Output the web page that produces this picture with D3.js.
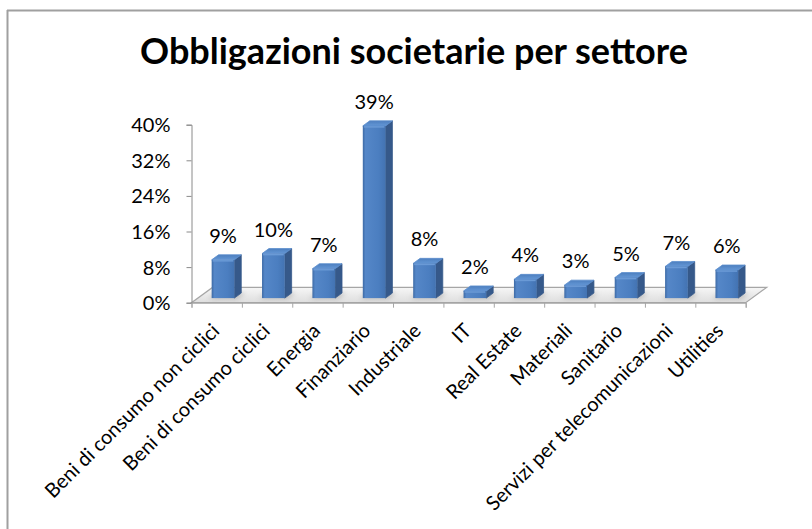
<!DOCTYPE html>
<html>
<head>
<meta charset="utf-8">
<script src="https://cdn.jsdelivr.net/npm/d3@7"></script>
<style>
  body { margin: 0; background: white; }
  text { font-family: Lato, "Open Sans", sans-serif; fill: #000; }
</style>
</head>
<body>
<div id="putGraphic"></div>
<script>
var categories = ["Beni di consumo non ciclici", "Beni di consumo ciclici", "Energia", "Finanziario",
    "Industriale", "IT", "Real Estate", "Materiali", "Sanitario", "Servizi per telecomunicazioni", "Utilities"];
var values = [8.6, 10.0, 6.6, 38.7, 7.8, 1.6, 4.2, 2.9, 4.6, 7.1, 6.3];
var yTicks = [0, 8, 16, 24, 32, 40];
var title = "Obbligazioni societarie per settore";

var width = 812, height = 529;
var plotLeft = 191.5, plotRight = 745.7, plotBottom = 302.7, plotTop = 124.7;
var depthX = 21, depthY = 15.3;   // floor depth offset
var zFront = 0.3, zBack = 0.63;   // bar position inside the depth
var fontSize = 20;

var svg = d3.select("#putGraphic").append("svg")
    .attr("width", width).attr("height", height)
    .attr("id", "svg");

var defs = svg.append("defs");
var gFront = defs.append("linearGradient").attr("id", "front");
gFront.append("stop").attr("offset", "0%").attr("stop-color", "#3d6aa5");
gFront.append("stop").attr("offset", "12%").attr("stop-color", "#5587c8");
gFront.append("stop").attr("offset", "70%").attr("stop-color", "#4b7ec0");
gFront.append("stop").attr("offset", "100%").attr("stop-color", "#4373b2");
var gTop = defs.append("linearGradient").attr("id", "topface").attr("x1", 0).attr("x2", 0).attr("y1", 1).attr("y2", 0);
gTop.append("stop").attr("offset", "0%").attr("stop-color", "#6497d6");
gTop.append("stop").attr("offset", "100%").attr("stop-color", "#4d7fbf");
var gFloor = defs.append("linearGradient").attr("id", "floor").attr("x1", 0).attr("x2", 0).attr("y1", 0).attr("y2", 1);
gFloor.append("stop").attr("offset", "0%").attr("stop-color", "#f6f6f6");
gFloor.append("stop").attr("offset", "100%").attr("stop-color", "#dedede");
defs.append("filter").attr("id", "blur").attr("x", "-50%").attr("y", "-50%").attr("width", "200%").attr("height", "200%")
    .append("feGaussianBlur").attr("stdDeviation", 2.5);

// chart frame (only top and left edges are visible)
svg.append("line").attr("x1", 7).attr("y1", 10.5).attr("x2", width).attr("y2", 10.5)
    .attr("stroke", "#a0a0a0").attr("stroke-width", 2);
svg.append("line").attr("x1", 7.5).attr("y1", 10).attr("x2", 7.5).attr("y2", height)
    .attr("stroke", "#a0a0a0").attr("stroke-width", 2);

svg.append("text")
    .attr("x", 414).attr("y", 64)
    .attr("text-anchor", "middle")
    .attr("font-size", "36px")
    .attr("font-weight", "bold")
    .text(title);

var y_scale = d3.scaleLinear().domain([0, 40]).range([plotBottom, plotTop]);
var x_band = d3.scaleBand().domain(categories).range([plotLeft, plotRight]).paddingInner(0).paddingOuter(0);
var x_edge = d3.scaleLinear().domain([0, categories.length]).range([plotLeft, plotRight]);
var barW = x_band.bandwidth() * 0.45;

// floor
var floorPts = [[plotLeft, plotBottom], [plotRight, plotBottom],
    [plotRight + depthX, plotBottom - depthY], [plotLeft + depthX, plotBottom - depthY]];
svg.append("polygon")
    .attr("points", floorPts.map(function(p) { return p.join(","); }).join(" "))
    .attr("fill", "url(#floor)")
    .attr("stroke", "#a6a6a6").attr("stroke-width", 1.2);

// bar geometry
var bars = categories.map(function(c, i) {
    var x0 = x_band(c) + (x_band.bandwidth() - barW) / 2 + zFront * depthX;
    var yBase = y_scale(0) - zFront * depthY;
    var yTop = y_scale(values[i]) - zFront * depthY;
    var dx = (zBack - zFront) * depthX, dy = (zBack - zFront) * depthY;
    return { c: c, v: values[i], x0: x0, x1: x0 + barW, yBase: yBase, yTop: yTop, dx: dx, dy: dy };
});

function pts(arr) { return arr.map(function(p) { return p.join(","); }).join(" "); }

// soft shadows on the floor
svg.selectAll(".shadow").data(bars).enter().append("polygon")
    .attr("class", "shadow")
    .attr("points", function(d) {
        return pts([[d.x0 - 3, d.yBase + 1], [d.x1 + 3, d.yBase + 1], [d.x1 + d.dx + 4, d.yBase - d.dy], [d.x0 + d.dx - 2, d.yBase - d.dy]]);
    })
    .attr("fill", "#8c8c8c").attr("opacity", 0.5)
    .attr("filter", "url(#blur)");

var g = svg.selectAll(".bar").data(bars).enter().append("g").attr("class", "bar");

g.append("polygon")   // side face
    .attr("points", function(d) {
        return pts([[d.x1, d.yBase], [d.x1 + d.dx, d.yBase - d.dy], [d.x1 + d.dx, d.yTop - d.dy], [d.x1, d.yTop]]);
    })
    .attr("fill", "#36598a")
    .attr("stroke", "#36598a").attr("stroke-width", 0.8).attr("stroke-linejoin", "round");

g.append("polygon")   // top face
    .attr("points", function(d) {
        return pts([[d.x0, d.yTop], [d.x1, d.yTop], [d.x1 + d.dx, d.yTop - d.dy], [d.x0 + d.dx, d.yTop - d.dy]]);
    })
    .attr("fill", "url(#topface)")
    .attr("stroke", "#5b8dcd").attr("stroke-width", 0.8).attr("stroke-linejoin", "round");

g.append("rect")      // front face
    .attr("x", function(d) { return d.x0; })
    .attr("y", function(d) { return d.yTop; })
    .attr("width", barW)
    .attr("height", function(d) { return d.yBase - d.yTop; })
    .attr("fill", "url(#front)");

g.append("line")      // bevel highlight on the front top edge
    .attr("x1", function(d) { return d.x0 + 1; })
    .attr("x2", function(d) { return d.x1 - 1; })
    .attr("y1", function(d) { return d.yTop + 1; })
    .attr("y2", function(d) { return d.yTop + 1; })
    .attr("stroke", "#6a9ad6").attr("stroke-width", 1.5);

g.append("text")
    .attr("x", function(d) { return (d.x0 + d.x1) / 2; })
    .attr("y", function(d) { return d.yTop - 17; })
    .attr("text-anchor", "middle")
    .attr("font-size", fontSize + "px")
    .text(function(d) { return d3.format(".0f")(d.v) + "%"; });

// value axis
var y_axis = d3.axisLeft(y_scale).tickValues(yTicks).tickSizeOuter(0).tickSize(5)
    .tickFormat(function(d) { return d + "%"; });
var ya = svg.append("g").attr("class", "y axis").attr("transform", "translate(" + plotLeft + ",0)").call(y_axis);
ya.selectAll("path, line").attr("stroke", "#8a8a8a");
ya.selectAll("text").attr("font-size", fontSize + "px").attr("font-family", "Lato").attr("fill", "#000")
    .attr("x", -21).attr("dy", "0.35em");

// category axis: ticks between categories
var x_axis = d3.axisBottom(x_edge).tickValues(d3.range(categories.length + 1)).tickSizeOuter(0).tickSize(5).tickFormat("");
var xa = svg.append("g").attr("class", "x axis").attr("transform", "translate(0," + plotBottom + ")").call(x_axis);
xa.selectAll("path, line").attr("stroke", "#a6a6a6");

svg.selectAll(".cat").data(categories).enter().append("text")
    .attr("class", "cat")
    .attr("text-anchor", "end")
    .attr("font-size", fontSize + "px")
    .attr("transform", function(c) {
        return "translate(" + (x_band(c) + x_band.bandwidth() / 2 + 4) + "," + 332 + ")rotate(-45)";
    })
    .text(function(c) { return c; });
</script>
</body>
</html>
